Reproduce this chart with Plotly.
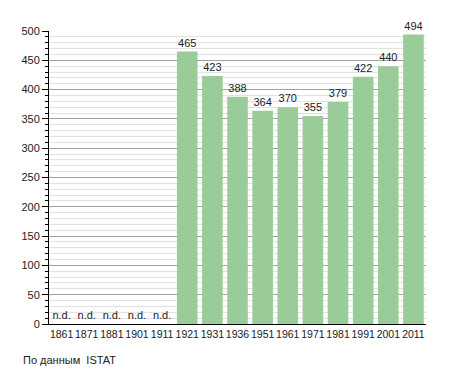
import plotly.graph_objects as go

years = ["1861", "1871", "1881", "1901", "1911", "1921", "1931", "1936",
         "1951", "1961", "1971", "1981", "1991", "2001", "2011"]
population = [None, None, None, None, None, 465, 423, 388,
              364, 370, 355, 379, 422, 440, 494]

y_vals = [v if v is not None else 0 for v in population]
labels = [str(v) if v is not None else "n.d." for v in population]

FONT = "Liberation Sans, Arial, sans-serif"

fig = go.Figure()
fig.add_trace(go.Bar(
    x=years, y=y_vals, text=labels, textposition="outside",
    marker=dict(color="#99cc99", line=dict(width=0)),
    textfont=dict(family=FONT, size=11, color="#222"),
    cliponaxis=False, hoverinfo="x+y",
))

# page body has an 8px margin, so the figure is sized/offset accordingly
fig.update_layout(
    width=447, height=365,
    margin=dict(l=41, r=29, t=23, b=49),
    plot_bgcolor="white", paper_bgcolor="white",
    bargap=0.18,
    showlegend=False,
    font=dict(family=FONT, size=11, color="#222"),
    uniformtext=dict(minsize=8, mode="show"),
    xaxis=dict(
        type="category", showgrid=False, showline=True, linecolor="black",
        linewidth=1, ticks="", tickangle=0, automargin=False,
        tickfont=dict(size=10.5),
    ),
    yaxis=dict(
        range=[0, 500], dtick=50, showgrid=True, gridcolor="#a0a0a0", gridwidth=1,
        showline=True, linecolor="black", linewidth=1,
        ticks="outside", ticklen=6, tickcolor="black", zeroline=False,
        automargin=False,
        minor=dict(dtick=10, showgrid=True, gridcolor="#e2e2e2",
                   ticks="outside", ticklen=3, tickcolor="black"),
        tickfont=dict(size=11),
    ),
    annotations=[dict(
        text="По данным  ISTAT", xref="paper", yref="paper",
        x=-(49 - 21) / 377, y=-36 / 293, xanchor="left", yanchor="middle",
        showarrow=False, font=dict(size=11, color="#222"),
    )],
)

fig.write_html("out.html")
